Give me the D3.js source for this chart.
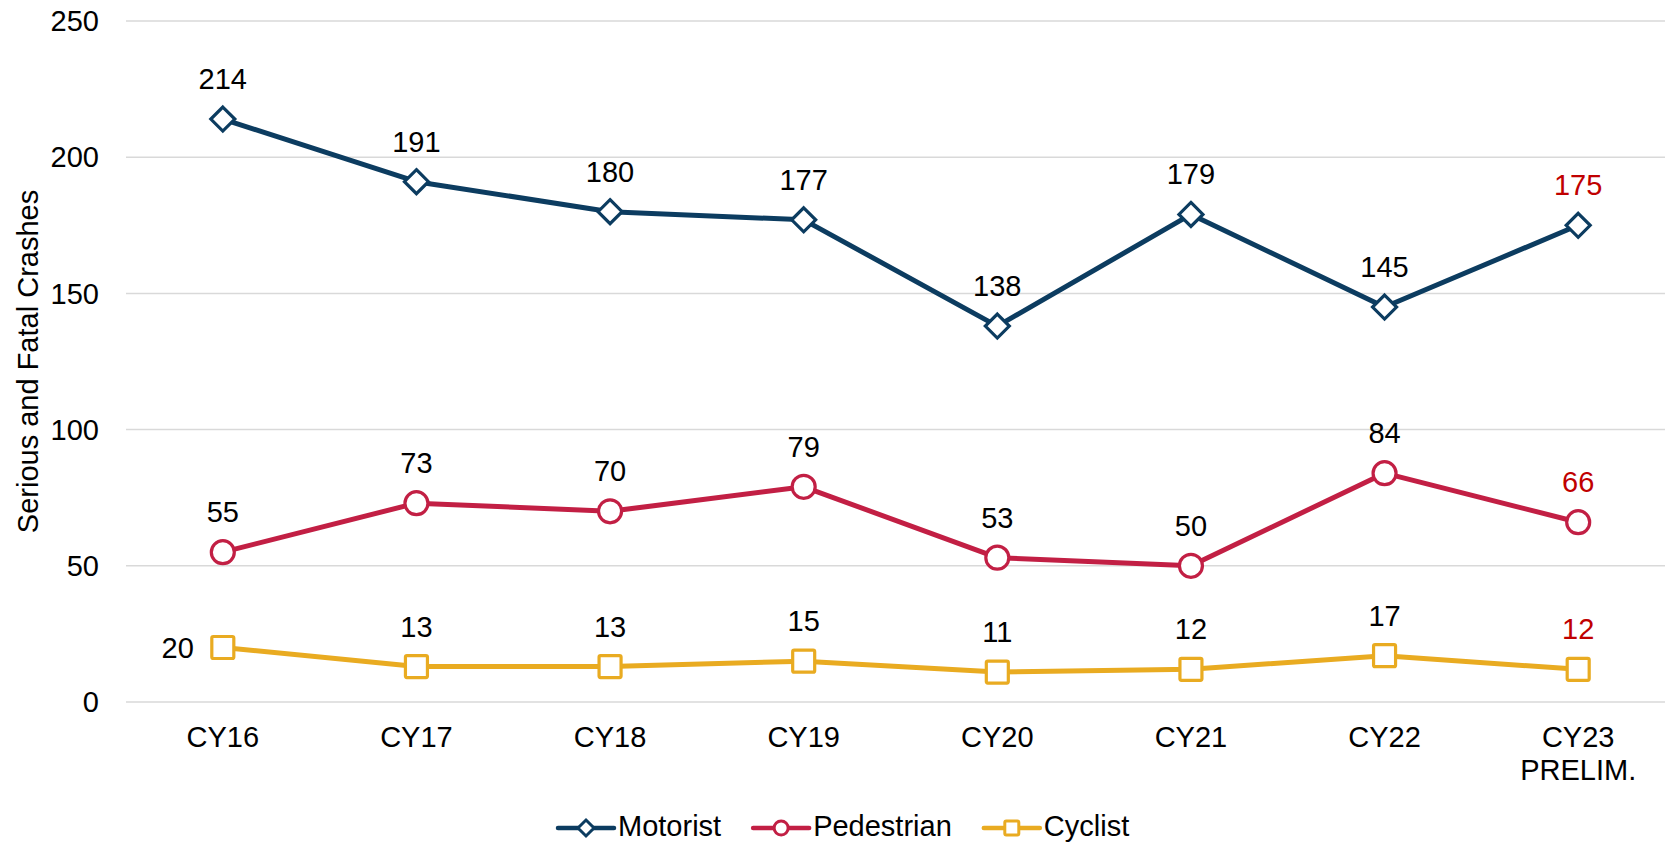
<!DOCTYPE html>
<html>
<head>
<meta charset="utf-8">
<script src="https://cdn.jsdelivr.net/npm/d3@7"></script>
<style>
  html, body { margin: 0; padding: 0; background: #fff; }
  svg { display: block; font-family: "Liberation Sans", Arial, sans-serif; }
</style>
</head>
<body>
<svg id="chart" width="1665" height="843"></svg>
<script>
const categories = ["CY16", "CY17", "CY18", "CY19", "CY20", "CY21", "CY22", "CY23\nPRELIM."];
const motorist   = [214, 191, 180, 177, 138, 179, 145, 175];
const pedestrian = [55, 73, 70, 79, 53, 50, 84, 66];
const cyclist    = [20, 13, 13, 15, 11, 12, 17, 12];
const yTicks = [0, 50, 100, 150, 200, 250];
const seriesNames = ["Motorist", "Pedestrian", "Cyclist"];
const yTitle = "Serious and Fatal Crashes";

const colors = { Motorist: "#0C3C60", Pedestrian: "#C21F44", Cyclist: "#E9AB21" };
const highlightColor = "#C00000";
const FS = 29;

const svg = d3.select("#chart");
const x = d3.scalePoint().domain(categories).range([126, 1675]).padding(0.5);
const y = d3.scaleLinear().domain([0, 250]).range([702, 21]);

// gridlines
svg.append("g").selectAll("line").data(yTicks).join("line")
  .attr("x1", 126).attr("x2", 1675)
  .attr("y1", d => y(d)).attr("y2", d => y(d))
  .attr("stroke", "#d9d9d9").attr("stroke-width", 1.5);

// y tick labels
svg.append("g").selectAll("text").data(yTicks).join("text")
  .attr("x", 99).attr("y", d => y(d)).attr("dy", "0.35em")
  .attr("text-anchor", "end").attr("font-size", FS).attr("fill", "#000")
  .text(d => d);

// y title
svg.append("text")
  .attr("transform", `translate(38, ${(y(0) + y(250)) / 2}) rotate(-90)`)
  .attr("text-anchor", "middle").attr("font-size", FS).attr("fill", "#000")
  .text(yTitle);

// x labels
const xl = svg.append("g").selectAll("text").data(categories).join("text")
  .attr("x", d => x(d)).attr("y", 747)
  .attr("text-anchor", "middle").attr("font-size", FS).attr("fill", "#000");
xl.each(function(d) {
  const parts = d.split("\n");
  const t = d3.select(this);
  parts.forEach((p, i) => {
    t.append("tspan").attr("x", x(d)).attr("dy", i === 0 ? 0 : 33).text(p);
  });
});

const series = [
  { name: "Motorist", values: motorist, shape: "diamond" },
  { name: "Pedestrian", values: pedestrian, shape: "circle" },
  { name: "Cyclist", values: cyclist, shape: "square" }
];

function drawMarker(g, shape, cx, cy, size, color, sw) {
  if (shape === "diamond") {
    const h = size / 2;
    g.append("path")
      .attr("d", `M${cx},${cy - h}L${cx + h},${cy}L${cx},${cy + h}L${cx - h},${cy}Z`)
      .attr("fill", "#fff").attr("stroke", color).attr("stroke-width", sw).attr("stroke-linejoin", "miter");
  } else if (shape === "circle") {
    g.append("circle").attr("cx", cx).attr("cy", cy).attr("r", size / 2)
      .attr("fill", "#fff").attr("stroke", color).attr("stroke-width", sw);
  } else {
    const h = size / 2;
    g.append("rect").attr("x", cx - h).attr("y", cy - h).attr("width", size).attr("height", size)
      .attr("rx", 1.5).attr("fill", "#fff").attr("stroke", color).attr("stroke-width", sw);
  }
}

const line = d3.line().x((d, i) => x(categories[i])).y(d => y(d));

series.forEach(s => {
  const g = svg.append("g");
  g.append("path").datum(s.values).attr("d", line)
    .attr("fill", "none").attr("stroke", colors[s.name]).attr("stroke-width", 5)
    .attr("stroke-linejoin", "round");
  const msize = s.shape === "diamond" ? 24 : (s.shape === "circle" ? 23 : 22);
  s.values.forEach((v, i) => drawMarker(g, s.shape, x(categories[i]), y(v), msize, colors[s.name], 3.2));
  s.values.forEach((v, i) => {
    const isLast = i === categories.length - 1;
    const leftLabel = s.name === "Cyclist" && i === 0;
    g.append("text")
      .attr("x", leftLabel ? x(categories[i]) - 29 : x(categories[i]))
      .attr("y", leftLabel ? y(v) + 10 : y(v) - 30)
      .attr("text-anchor", leftLabel ? "end" : "middle")
      .attr("font-size", FS)
      .attr("fill", isLast ? highlightColor : "#000")
      .text(v);
  });
});

// legend
const lg = svg.append("g");
let lx = 558;
const ly = 828;
series.forEach(s => {
  lg.append("line").attr("x1", lx).attr("x2", lx + 56).attr("y1", ly).attr("y2", ly)
    .attr("stroke", colors[s.name]).attr("stroke-width", 4.5).attr("stroke-linecap", "round");
  drawMarker(lg, s.shape, lx + 28, ly, s.shape === "diamond" ? 16 : 14, colors[s.name], 3);
  const t = lg.append("text").attr("x", lx + 60).attr("y", ly + 8)
    .attr("font-size", FS).attr("fill", "#000").text(s.name);
  lx = lx + 60 + t.node().getComputedTextLength() + 32;
});
</script>
</body>
</html>
